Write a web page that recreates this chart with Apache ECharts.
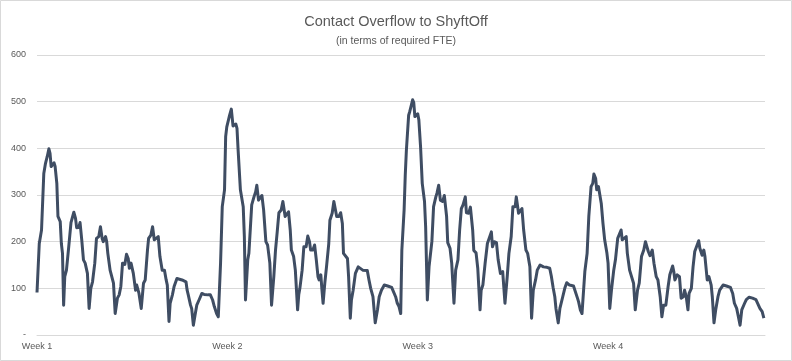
<!DOCTYPE html>
<html>
<head>
<meta charset="utf-8">
<script src="https://cdn.jsdelivr.net/npm/echarts@6/dist/echarts.min.js"></script>
<style>
html,body{margin:0;padding:0;background:#fff;}
#chart{width:792px;height:361px;}
</style>
</head>
<body>
<div id="chart"></div>
<script>
// x in hours since start of Week 1, y in required FTE
const hours = [0,2,4,6,7.5,9,10.5,11.5,12.5,14,15,16,17.5,18.5,20.5,21.5,22.5,23.5,24.5,26,28,30,31.5,32.5,34,35,37,38,39.5,41,42.5,44.5,46,47.5,49,51,52.5,54.5,56,57.5,58.5,60.5,61.5,62.5,64.5,66,67.5,69,71,72.5,74,75.5,77.5,79,80.5,81.5,83,85,87,88,90,92,94,95.5,97.5,98.5,100.5,102,103.5,105,107,108.5,110.5,112.5,114,115,116.5,117.5,119.5,121,123.5,125,128,131.5,132.5,133.5,135.5,136.5,138,139.5,141,143,145.5,147.5,151,153,155,156.5,158.5,160,162,163.5,165.5,166.5,167.5,169,170,171.5,172.5,173,174,175.5,176.5,177.5,179.5,182,183,184,186,187,189.5,191.5,193,194,195.5,197,198.5,200,202,203.5,205.5,207,209,210.5,212,213.5,215.5,217,219,220.5,222,223.5,224.5,226.5,228,230,231,232,234,235.5,237.5,239,240.5,241.5,243.5,245,246.5,248,249,250.5,251.5,252.5,254,255.5,257.5,258.5,260.5,262,263.5,264.5,266.5,268,269.5,270.5,272,274,275,276.5,277.5,279,281,283.5,285,287.5,291.5,293,294.5,296.5,297.5,298.5,300.5,302,304,306.5,309.5,313,314.5,316.5,318,319.5,321,322,324,325,326,328,329,330,331.5,332.5,333.5,335,336,337,338.5,340,342,343,344.5,346,348.5,350,352,353,354.5,356,358,359.5,361.5,362.5,364.5,366,368,369.5,371.5,373,374.5,376,378,379,381,382.5,384.5,385.5,387.5,389,391,392,393.5,395.5,397.5,399,401,402,403.5,405.5,407,409,411,413,415,416.5,418.5,420,422,423,425,426.5,428,429.5,431.5,433,435,436.5,438,440,441.5,444,447,450,452.5,454,455.5,457,458,460,461.5,464,466,467.5,470,473.5,475,477,478,479.5,481,482.5,483.5,485.5,487,489,490.5,491.5,493,494,495.5,497,498,499.5,501,503,504,505.5,507,509,510.5,512.5,513.5,515.5,516.5,518,520,521,523,524.5,526.5,528,530,531.5,533.5,535.5,537,538.5,539.5,541,543,544.5,546.5,548,549,550,551.5,553,555,557,558.5,559.5,561,562,563,565,567,568.5,570.5,571.5,573,574.5,575.5,577.5,579,580.5,582,584,585,587,588.5,589.5,591.5,593,595,596,597.5,599,601,602.5,605.5,608.5,612,614,615.5,617.5,619,620.5,622,624.5,626,628.5,631.5,634.5,636,638,640,641.5];
const fte = [91,196,225,346,368,382,399,389,361,359,369,361,325,254,243,196,175,64,125,139,189,241,244,263,250,230,231,241,204,161,154,132,57,100,114,154,207,211,232,207,200,211,200,175,139,136,111,46,79,86,104,154,151,173,164,143,154,132,96,107,89,57,111,118,182,207,214,232,204,200,211,168,139,139,118,107,29,68,86,104,121,121,118,114,96,86,64,57,21,43,64,75,89,87,86,86,75,61,46,39,154,275,311,425,446,461,471,484,482,448,445,452,443,396,311,275,211,75,161,175,279,296,307,321,289,286,299,268,200,193,154,64,125,182,221,262,268,286,254,250,264,225,182,168,139,54,86,100,139,189,189,212,200,182,182,193,161,125,118,129,96,68,111,146,196,246,261,286,282,254,254,262,239,175,171,164,125,36,75,96,132,146,145,139,138,118,100,82,80,26,54,82,96,107,105,102,100,82,68,61,46,182,268,342,396,471,479,489,504,498,468,464,474,461,404,325,286,232,75,146,200,275,296,304,321,289,286,299,254,198,186,154,68,139,161,225,271,279,296,262,261,274,225,181,176,143,54,96,107,154,196,200,221,189,200,198,161,132,136,68,125,175,211,275,275,296,261,264,271,225,182,175,146,36,96,118,139,150,146,145,143,125,102,82,57,26,57,82,102,112,107,105,102,79,71,54,46,46,136,175,254,318,325,345,336,311,318,318,282,239,204,175,154,57,96,139,161,207,211,225,204,200,211,175,139,136,111,54,96,111,168,182,200,198,179,170,182,154,125,118,121,82,39,64,64,104,129,132,148,136,118,129,125,79,82,96,82,54,89,100,146,179,182,202,186,171,182,168,118,125,107,82,26,54,82,96,107,105,102,89,68,57,39,21,54,68,76,81,79,76,68,57,50,36];
const weekLabels = ['Week 1','Week 2','Week 3','Week 4'];
const hoursPerWeek = 168;
const yTicks = [0,100,200,300,400,500,600];

const chart = echarts.init(document.getElementById('chart'));
const txt = '#595959';
const fontFam = '"Liberation Sans", Arial, sans-serif';
chart.setOption({
  animation: false,
  backgroundColor: '#ffffff',
  title: [
    {text: 'Contact Overflow to ShyftOff', left: 'center', top: 9,
     textStyle: {fontFamily: fontFam, fontSize: 14.5, fontWeight: 'normal', color: txt}},
    {text: '(in terms of required FTE)', left: 'center', top: 31,
     textStyle: {fontFamily: fontFam, fontSize: 10.5, fontWeight: 'normal', color: txt}}
  ],
  graphic: [{type: 'rect', shape: {x: 0.5, y: 0.5, width: 791, height: 360},
    style: {fill: 'none', stroke: '#d9d9d9', lineWidth: 1}, silent: true}],
  grid: {left: 37, right: 27, top: 55, bottom: 26, containLabel: false},
  xAxis: {
    type: 'value', min: 0, max: 642.5, interval: hoursPerWeek,
    axisLine: {show: true, lineStyle: {color: '#d9d9d9'}},
    axisTick: {show: false},
    splitLine: {show: false},
    axisLabel: {
      color: txt, fontFamily: fontFam, fontSize: 9, margin: 7,
      showMaxLabel: false,
      formatter: function (v) {
        const k = v / hoursPerWeek;
        return Number.isInteger(k) && k < weekLabels.length ? weekLabels[k] : '';
      }
    }
  },
  yAxis: {
    type: 'value', min: yTicks[0], max: yTicks[yTicks.length - 1], interval: 100,
    axisLine: {show: false}, axisTick: {show: false},
    splitLine: {lineStyle: {color: '#d9d9d9', width: 1}},
    axisLabel: {
      color: txt, fontFamily: fontFam, fontSize: 9, margin: 11,
      formatter: function (v) { return v === 0 ? '-' : String(v); }
    }
  },
  series: [{
    type: 'line',
    data: hours.map((h, i) => [h, fte[i]]),
    showSymbol: false,
    smooth: false,
    lineStyle: {color: '#3f4d63', width: 3, join: 'round'},
    itemStyle: {color: '#3f4d63'}
  }]
});
</script>
</body>
</html>
